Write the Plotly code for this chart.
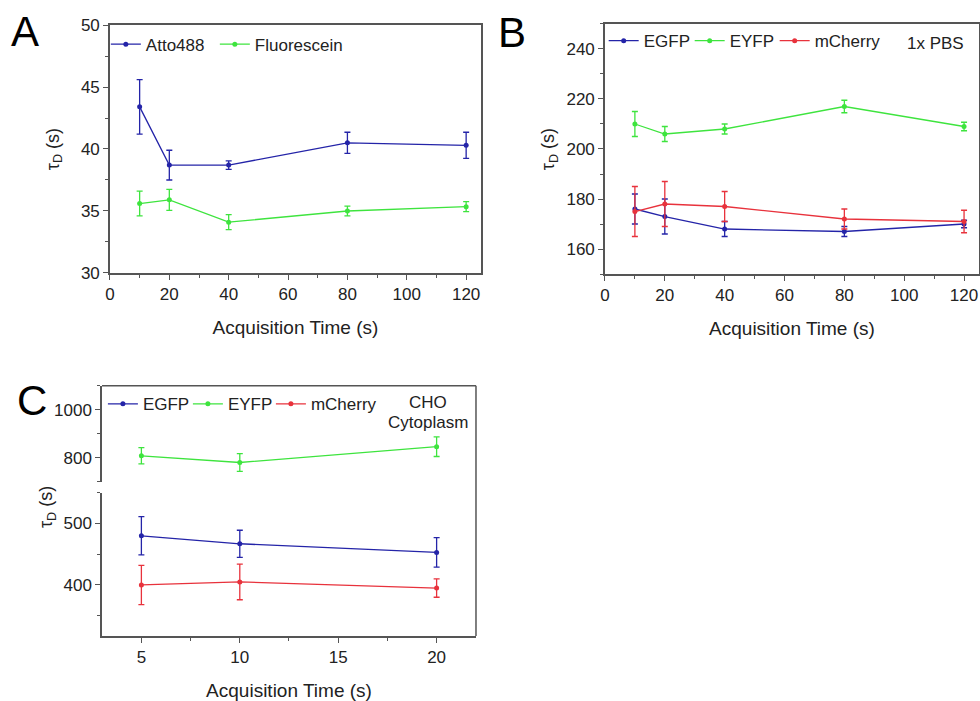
import plotly.graph_objects as go

# ---------------- data ----------------
# Panel A
a_time = [10, 20, 40, 80, 120]
a_atto = [43.4, 38.7, 38.7, 40.5, 40.3]
a_atto_err = [2.2, 1.2, 0.35, 0.85, 1.05]
a_fluo = [35.6, 35.9, 34.1, 35.0, 35.35]
a_fluo_err = [1.0, 0.85, 0.6, 0.4, 0.4]

# Panel B
b_time = [10, 20, 40, 80, 120]
b_egfp = [176, 173, 168, 167, 170]
b_egfp_err = [6, 7, 3, 2, 1.5]
b_eyfp = [210, 206, 208, 217, 209]
b_eyfp_err = [5, 3, 2, 2.5, 1.7]
b_mch = [175, 178, 177, 172, 171]
b_mch_err = [10, 9, 6, 4, 4.5]

# Panel C
c_time = [5, 10, 20]
c_egfp = [480, 467, 453]
c_egfp_err = [31, 22, 24]
c_eyfp = [808, 780, 846]
c_eyfp_err = [34, 37, 41]
c_mch = [400, 405, 395]
c_mch_err = [32, 29, 15]

BLUE = "#2424a8"
GREEN = "#3ee43e"
RED = "#e8323c"
AX = "#555555"
FONT = "Liberation Sans, Arial, sans-serif"

fig = go.Figure()


def add(x, y, e, name, color, xa, ya, legend, lw=None):
    fig.add_trace(go.Scatter(
        x=x, y=y, name=name, mode="lines+markers",
        line=dict(color=color, width=1.3),
        marker=dict(color=color, size=5),
        error_y=dict(type="data", array=e, color=color, thickness=1.3, width=3),
        xaxis=xa, yaxis=ya, legend=legend, legendwidth=lw,
    ))


# A
add(a_time, a_atto, a_atto_err, "Atto488", BLUE, "x", "y", "legend", lw=64)
add(a_time, a_fluo, a_fluo_err, "Fluorescein", GREEN, "x", "y", "legend", lw=95)
# B
add(b_time, b_egfp, b_egfp_err, "EGFP", BLUE, "x2", "y2", "legend2", lw=41)
add(b_time, b_eyfp, b_eyfp_err, "EYFP", GREEN, "x2", "y2", "legend2", lw=40)
add(b_time, b_mch, b_mch_err, "mCherry", RED, "x2", "y2", "legend2", lw=75)
# C (broken axis: lower y3, upper y4)
add(c_time, c_egfp, c_egfp_err, "EGFP", BLUE, "x3", "y3", "legend3", lw=40)
add(c_time, c_eyfp, c_eyfp_err, "EYFP", GREEN, "x3", "y4", "legend3", lw=38)
add(c_time, c_mch, c_mch_err, "mCherry", RED, "x3", "y3", "legend3", lw=75)

tickfont = dict(family=FONT, size=17, color="#222")
xtitlefont = dict(family=FONT, size=19, color="#222")
ytitlefont = dict(family=FONT, size=18, color="#222")


def xax(dom, rng, dtick, mdtick, anchor, mirror=True):
    return dict(domain=dom, range=rng, dtick=dtick, tick0=0, anchor=anchor, automargin=False,
                showline=True, linecolor=AX, linewidth=1.5, mirror=mirror,
                ticks="outside", ticklen=5, tickwidth=1.2, tickcolor=AX,
                minor=dict(dtick=mdtick, tick0=0, ticks="outside", ticklen=3, tickcolor=AX, tickwidth=1),
                showgrid=False, zeroline=False, tickfont=tickfont,
                title=dict(text="Acquisition Time (s)", font=xtitlefont, standoff=18))


def yax(dom, rng, dtick, mdtick, anchor, mirror=True, standoff=None):
    d = dict(domain=dom, range=rng, dtick=dtick, tick0=0, anchor=anchor, automargin=False,
             showline=True, linecolor=AX, linewidth=1.5, mirror=mirror,
             ticks="outside", ticklen=5, tickwidth=1.2, tickcolor=AX,
             minor=dict(dtick=mdtick, tick0=0, ticks="outside", ticklen=3, tickcolor=AX, tickwidth=1),
             showgrid=False, zeroline=False, tickfont=tickfont)
    if standoff is not None:
        d["title"] = dict(text="τ<sub>D</sub> (s)", font=ytitlefont, standoff=standoff)
    return d


legfont = dict(family=FONT, size=17, color="#222")

fig.update_layout(
    width=980, height=701,
    margin=dict(l=0, r=0, t=0, b=0, autoexpand=False),
    paper_bgcolor="white", plot_bgcolor="white",
    font=dict(family=FONT),
    xaxis=xax([0.1122, 0.4908], [0, 125], 20, 10, "y"),
    yaxis=yax([0.6106, 0.9643], [30, 50], 5, 2.5, "x", standoff=17),
    xaxis2=xax([0.6173, 0.999], [0, 125], 20, 10, "y2"),
    yaxis2=yax([0.6091, 0.9658], [150, 250], 20, 10, "x2", standoff=7),
    xaxis3=xax([0.1041, 0.4857], [3, 22], 5, 2.5, "y3", mirror=False),
    yaxis3=yax([0.0927, 0.2971], [317, 550], 100, 50, "x3", mirror=False),
    yaxis4=yax([0.3128, 0.4498], [699.9, 1100], 200, 100, "x3", mirror=False),
    legend=dict(orientation="h", x=0.108, y=0.962, xanchor="left", yanchor="top",
                font=legfont, bgcolor="rgba(0,0,0,0)", itemwidth=30),
    legend2=dict(orientation="h", x=0.616, y=0.967, xanchor="left", yanchor="top",
                 font=legfont, bgcolor="rgba(0,0,0,0)", itemwidth=30),
    legend3=dict(orientation="h", x=0.105, y=0.449, xanchor="left", yanchor="top",
                 font=legfont, bgcolor="rgba(0,0,0,0)", itemwidth=30),
    showlegend=True,
)

# frame for panel C (top and right lines)
fig.add_shape(type="line", xref="paper", yref="paper", x0=0.1041, x1=0.4857, y0=0.4498, y1=0.4498,
              line=dict(color=AX, width=1.5))
fig.add_shape(type="line", xref="paper", yref="paper", x0=0.4857, x1=0.4857, y0=0.0927, y1=0.4498,
              line=dict(color=AX, width=1.5))

ann = [
    dict(text="A", x=25 / 980, y=1 - 31 / 701, font=dict(family=FONT, size=42, color="black")),
    dict(text="B", x=512 / 980, y=1 - 32 / 701, font=dict(family=FONT, size=42, color="black")),
    dict(text="C", x=32 / 980, y=1 - 400 / 701, font=dict(family=FONT, size=42, color="black")),
    dict(text="1x PBS", x=935 / 980, y=1 - 43 / 701, font=dict(family=FONT, size=17, color="#222")),
    dict(text="CHO", x=428 / 980, y=1 - 402 / 701, font=dict(family=FONT, size=17, color="#222")),
    dict(text="Cytoplasm", x=428 / 980, y=1 - 422 / 701, font=dict(family=FONT, size=17, color="#222")),
    dict(text="τ<sub>D</sub> (s)", x=47 / 980, y=1 - 507 / 701, textangle=-90, font=ytitlefont),
]
for a in ann:
    fig.add_annotation(xref="paper", yref="paper", showarrow=False, xanchor="center", yanchor="middle", **a)

fig.write_html("out.html")
